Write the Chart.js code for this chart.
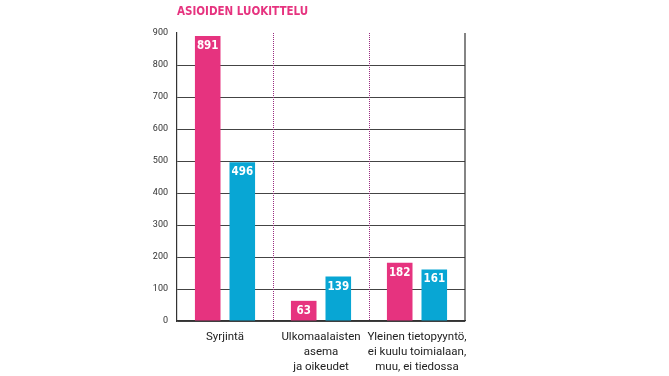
<!DOCTYPE html>
<html>
<head>
<meta charset="utf-8">
<script src="https://cdn.jsdelivr.net/npm/chart.js@4/dist/chart.umd.min.js"></script>
<style>
  html, body { margin: 0; padding: 0; background: #fff; }
  #wrap { width: 669px; height: 376px; }
</style>
</head>
<body>
<div id="wrap"><canvas id="chart"></canvas></div>
<script>
const title = 'ASIOIDEN LUOKITTELU';
const categories = [
  ['Syrjintä'],
  ['Ulkomaalaisten', 'asema', 'ja oikeudet'],
  ['Yleinen tietopyyntö,', 'ei kuulu toimialaan,', 'muu, ei tiedossa']
];
const pinkValues = [891, 63, 182];
const blueValues = [496, 139, 161];
const yTicks = [0, 100, 200, 300, 400, 500, 600, 700, 800, 900];

const PINK = '#e6337f';
const BLUE = '#08a6d4';
const FONT = "'Roboto', sans-serif";

// draws title, right border, dotted separators and the value labels
const decorations = {
  id: 'decorations',
  afterDatasetsDraw(chart) {
    const ctx = chart.ctx;
    const area = chart.chartArea;
    const x = chart.scales.x;
    ctx.save();

    // right border
    ctx.strokeStyle = '#333';
    ctx.lineWidth = 1.2;
    ctx.beginPath();
    ctx.moveTo(area.right, area.top);
    ctx.lineTo(area.right, area.bottom);
    ctx.stroke();

    // dotted separators between categories
    ctx.strokeStyle = '#9a2c80';
    ctx.lineWidth = 1;
    ctx.setLineDash([1, 1]);
    for (let i = 0; i < categories.length - 1; i++) {
      const sx = Math.round((x.getPixelForTick(i) + x.getPixelForTick(i + 1)) / 2) + 0.5;
      ctx.beginPath();
      ctx.moveTo(sx, area.top);
      ctx.lineTo(sx, area.bottom);
      ctx.stroke();
    }
    ctx.setLineDash([]);

    // value labels inside bars
    ctx.fillStyle = '#fff';
    ctx.font = "bold 11.5px 'DejaVu Sans Condensed', 'Roboto', sans-serif";
    ctx.textAlign = 'center';
    ctx.textBaseline = 'middle';
    chart.data.datasets.forEach((ds, di) => {
      chart.getDatasetMeta(di).data.forEach((bar, i) => {
        ctx.fillText(String(ds.data[i]), bar.x, bar.y + 10);
      });
    });

    // title
    ctx.fillStyle = PINK;
    ctx.font = "bold 11.5px 'DejaVu Sans Condensed', 'Roboto', sans-serif";
    ctx.textAlign = 'left';
    ctx.fillText(title, area.left, 12);
    ctx.restore();
  }
};

new Chart(document.getElementById('chart'), {
  type: 'bar',
  data: {
    labels: categories,
    datasets: [
      { label: 'a', data: pinkValues, backgroundColor: PINK },
      { label: 'b', data: blueValues, backgroundColor: BLUE }
    ]
  },
  options: {
    responsive: true,
    maintainAspectRatio: false,
    animation: false,
    categoryPercentage: 0.72,
    barPercentage: 0.74,
    layout: { padding: { top: 33, right: 204, bottom: 0, left: 0 } },
    plugins: {
      legend: { display: false },
      tooltip: { enabled: false }
    },
    scales: {
      x: {
        grid: { display: false, drawTicks: false },
        border: { color: '#333', width: 1.2 },
        ticks: {
          color: '#222',
          font: { family: FONT, size: 11.5, lineHeight: 1.3 },
          padding: 9,
          maxRotation: 0,
          autoSkip: false
        },
        afterFit(scale) { scale.height = 55; }
      },
      y: {
        min: 0,
        max: 900,
        afterBuildTicks(scale) { scale.ticks = yTicks.map(v => ({ value: v })); },
        grid: {
          drawTicks: false,
          color: ctx => ctx.tick && ctx.tick.value === 900 ? 'rgba(0,0,0,0)' : '#444',
          lineWidth: 1
        },
        border: { color: '#333', width: 1.2 },
        ticks: {
          color: '#333',
          font: { family: FONT, size: 9 },
          padding: 9
        },
        afterFit(scale) { scale.width = 177; }
      }
    }
  },
  plugins: [decorations]
});
</script>
</body>
</html>
